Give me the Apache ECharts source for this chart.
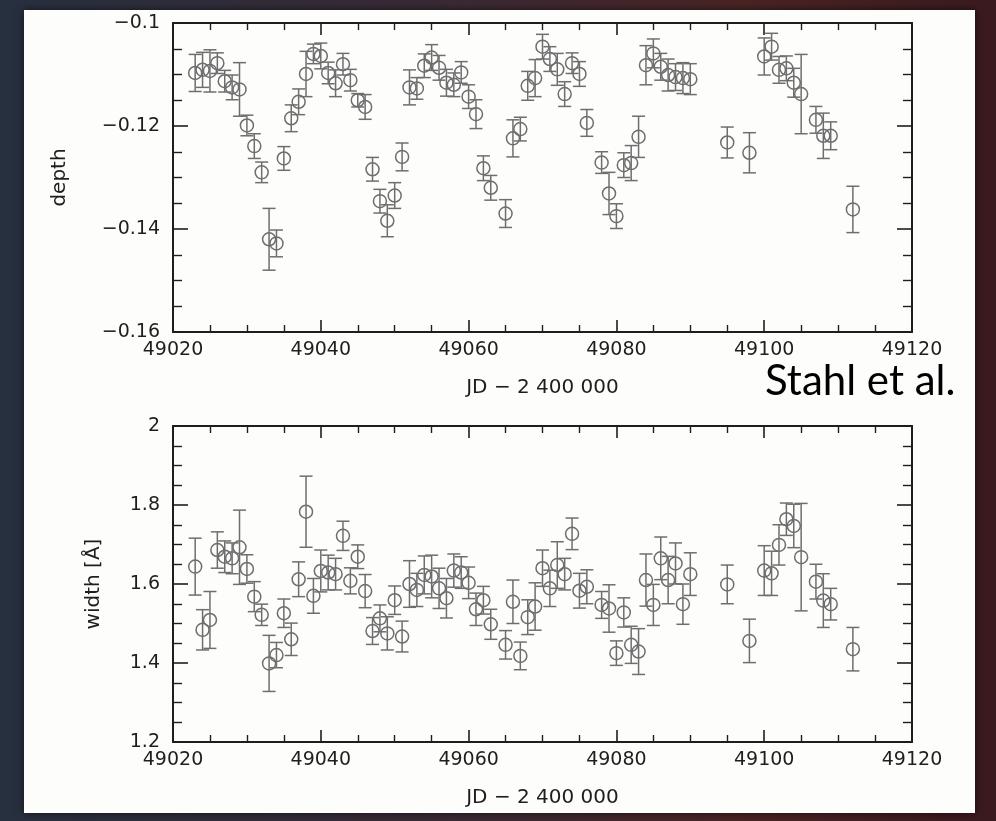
<!DOCTYPE html>
<html>
<head>
<meta charset="utf-8">
<script src="https://cdn.jsdelivr.net/npm/echarts@6/dist/echarts.min.js"></script>
<style>
  html, body { margin: 0; padding: 0; }
  body {
    width: 996px; height: 821px; overflow: hidden;
    background: linear-gradient(90deg, #27303f 0%, #3a2a35 45%, #4a2424 75%, #3a1a1e 100%);
  }
  #chart { width: 996px; height: 821px; }
</style>
</head>
<body>
<div id="chart"></div>
<script>
// JD - 2 400 000 of each observation
const days = [
  49023, 49024, 49025, 49026, 49027, 49028, 49029, 49030, 49031, 49032,
  49033, 49034, 49035, 49036, 49037, 49038, 49039, 49040, 49041, 49042,
  49043, 49044, 49045, 49046, 49047, 49048, 49049, 49050, 49051, 49052,
  49053, 49054, 49055, 49056, 49057, 49058, 49059, 49060, 49061, 49062,
  49063, 49065, 49066, 49067, 49068, 49069, 49070, 49071, 49072, 49073,
  49074, 49075, 49076, 49078, 49079, 49080, 49081, 49082, 49083, 49084,
  49085, 49086, 49087, 49088, 49089, 49090, 49095, 49098, 49100, 49101,
  49102, 49103, 49104, 49105, 49107, 49108, 49109, 49112
];
const depth = [
  -0.1097, -0.1091, -0.1093, -0.1078, -0.1113, -0.1125, -0.1129, -0.1199, -0.1239, -0.1290,
  -0.1420, -0.1428, -0.1263, -0.1185, -0.1153, -0.1099, -0.1060, -0.1064, -0.1097, -0.1117,
  -0.1080, -0.1111, -0.1150, -0.1163, -0.1284, -0.1346, -0.1384, -0.1335, -0.1260, -0.1125,
  -0.1127, -0.1083, -0.1067, -0.1087, -0.1116, -0.1120, -0.1096, -0.1143, -0.1177, -0.1282,
  -0.1320, -0.1370, -0.1224, -0.1206, -0.1122, -0.1107, -0.1046, -0.1070, -0.1090, -0.1138,
  -0.1078, -0.1099, -0.1194, -0.1271, -0.1331, -0.1375, -0.1276, -0.1272, -0.1221, -0.1082,
  -0.1059, -0.1085, -0.1101, -0.1105, -0.1107, -0.1109, -0.1232, -0.1252, -0.1065, -0.1046,
  -0.1091, -0.1088, -0.1116, -0.1138, -0.1188, -0.1219, -0.1219, -0.1362
];
const depthErr = [
  0.0036, 0.0034, 0.0041, 0.0020, 0.0021, 0.0024, 0.0052, 0.0020, 0.0024, 0.0020,
  0.0060, 0.0026, 0.0023, 0.0026, 0.0025, 0.0044, 0.0019, 0.0025, 0.0021, 0.0026,
  0.0021, 0.0021, 0.0013, 0.0024, 0.0023, 0.0023, 0.0031, 0.0025, 0.0027, 0.0034,
  0.0021, 0.0023, 0.0025, 0.0024, 0.0026, 0.0023, 0.0021, 0.0023, 0.0028, 0.0024,
  0.0024, 0.0027, 0.0036, 0.0023, 0.0028, 0.0036, 0.0024, 0.0024, 0.0031, 0.0024,
  0.0020, 0.0024, 0.0026, 0.0021, 0.0041, 0.0024, 0.0024, 0.0034, 0.0040, 0.0038,
  0.0028, 0.0026, 0.0031, 0.0026, 0.0030, 0.0030, 0.0030, 0.0039, 0.0036, 0.0026,
  0.0026, 0.0024, 0.0028, 0.0077, 0.0026, 0.0044, 0.0027, 0.0045
];
const width = [
  1.644, 1.484, 1.509, 1.686, 1.669, 1.665, 1.693, 1.638, 1.568, 1.522,
  1.399, 1.420, 1.526, 1.460, 1.612, 1.783, 1.570, 1.633, 1.629, 1.625,
  1.722, 1.608, 1.669, 1.582, 1.481, 1.513, 1.475, 1.559, 1.467, 1.600,
  1.585, 1.623, 1.619, 1.589, 1.564, 1.634, 1.629, 1.603, 1.536, 1.559,
  1.498, 1.446, 1.555, 1.418, 1.516, 1.543, 1.640, 1.589, 1.648, 1.625,
  1.727, 1.583, 1.593, 1.547, 1.538, 1.425, 1.528, 1.446, 1.429, 1.610,
  1.547, 1.665, 1.610, 1.652, 1.549, 1.625, 1.599, 1.456, 1.634, 1.627,
  1.699, 1.764, 1.747, 1.668, 1.606, 1.558, 1.549, 1.435
];
const widthErr = [
  0.072, 0.051, 0.072, 0.046, 0.040, 0.039, 0.094, 0.036, 0.038, 0.027,
  0.071, 0.032, 0.036, 0.041, 0.044, 0.090, 0.044, 0.053, 0.044, 0.040,
  0.037, 0.033, 0.030, 0.042, 0.034, 0.034, 0.042, 0.036, 0.039, 0.059,
  0.042, 0.048, 0.054, 0.051, 0.050, 0.042, 0.040, 0.040, 0.041, 0.035,
  0.038, 0.036, 0.055, 0.035, 0.044, 0.060, 0.046, 0.046, 0.059, 0.040,
  0.040, 0.044, 0.043, 0.034, 0.060, 0.031, 0.037, 0.047, 0.058, 0.066,
  0.052, 0.054, 0.060, 0.052, 0.051, 0.054, 0.049, 0.055, 0.063, 0.056,
  0.051, 0.041, 0.055, 0.136, 0.044, 0.068, 0.040, 0.055
];

const ink = '#1e1e1e';
const markColor = '#6e6e6e';
const tickFont = 'DejaVu Sans';

// error bar + open circle, positioned through the axis scales
function errorBar(params, api) {
  const x = api.value(0), y = api.value(1), e = api.value(2);
  const c = api.coord([x, y]);
  const hi = api.coord([x, y + e]);
  const lo = api.coord([x, y - e]);
  const w = 6.5;
  const st = { stroke: markColor, lineWidth: 1.5, fill: null };
  return {
    type: 'group',
    children: [
      { type: 'line', shape: { x1: c[0], y1: hi[1], x2: c[0], y2: lo[1] }, style: st },
      { type: 'line', shape: { x1: c[0] - w, y1: hi[1], x2: c[0] + w, y2: hi[1] }, style: st },
      { type: 'line', shape: { x1: c[0] - w, y1: lo[1], x2: c[0] + w, y2: lo[1] }, style: st },
      { type: 'circle', shape: { cx: c[0], cy: c[1], r: 6.5 }, style: { stroke: markColor, lineWidth: 1.5, fill: 'rgba(0,0,0,0)' } }
    ]
  };
}

function xAxes(gridIndex) {
  const common = {
    type: 'value', gridIndex: gridIndex, min: 49020, max: 49120, interval: 20,
    axisLine: { lineStyle: { color: ink, width: 2 } },
    axisTick: { inside: true, length: 12, lineStyle: { color: ink, width: 1.6 } },
    minorTick: { show: true, splitNumber: 4, length: 7, lineStyle: { color: ink, width: 1.4 } },
    splitLine: { show: false }
  };
  return [
    Object.assign({}, common, {
      position: 'bottom',
      name: 'JD \u2212 2 400 000', nameLocation: 'middle', nameGap: 46,
      nameTextStyle: { color: ink, fontFamily: tickFont, fontSize: 20 },
      axisLabel: {
        color: ink, fontFamily: tickFont, fontSize: 19, margin: 9,
        formatter: function (v) { return String(v); }
      }
    }),
    Object.assign({}, common, { position: 'top', axisLabel: { show: false } })
  ];
}

function yAxes(gridIndex, min, max, interval, name, nameGap, fmt) {
  const common = {
    type: 'value', gridIndex: gridIndex, min: min, max: max, interval: interval,
    axisLine: { show: true, lineStyle: { color: ink, width: 2 } },
    axisTick: { inside: true, length: 15, lineStyle: { color: ink, width: 1.6 } },
    minorTick: { show: true, splitNumber: 4, length: 9, lineStyle: { color: ink, width: 1.4 } },
    splitLine: { show: false }
  };
  return [
    Object.assign({}, common, {
      position: 'left',
      name: name, nameLocation: 'middle', nameGap: nameGap, nameRotate: 90,
      nameTextStyle: { color: ink, fontFamily: tickFont, fontSize: 20 },
      axisLabel: { color: ink, fontFamily: tickFont, fontSize: 19, margin: 13, formatter: fmt }
    }),
    Object.assign({}, common, { position: 'right', axisLabel: { show: false } })
  ];
}

const chart = echarts.init(document.getElementById('chart'), null, { renderer: 'canvas' });

const option = {
  backgroundColor: 'transparent',
  animation: false,
  graphic: [
    {
      type: 'rect', z: -10,
      shape: { x: 24, y: 10, width: 951, height: 803 },
      style: { fill: '#fdfdfc', shadowBlur: 8, shadowColor: 'rgba(0,0,0,0.6)' }
    },
    {
      type: 'text', z: 10, left: 765, top: 360,
      style: { text: 'Stahl et al.', fill: '#000', font: '42px Lato' }
    }
  ],
  grid: [
    { left: 173, top: 23, width: 739, height: 309 },
    { left: 173, top: 426, width: 739, height: 316 }
  ],
  xAxis: xAxes(0).concat(xAxes(1)),
  yAxis: yAxes(0, -0.16, -0.1, 0.02, 'depth', 103, function (v) {
    return String(+v.toFixed(3)).replace('-', '\u2212');
  }).concat(yAxes(1, 1.2, 2, 0.2, 'width [\u00c5]', 69, function (v) {
    return String(+v.toFixed(2));
  })),
  series: [
    {
      type: 'custom', xAxisIndex: 0, yAxisIndex: 0,
      renderItem: errorBar,
      encode: { x: 0, y: 1 },
      data: days.map(function (d, i) { return [d, depth[i], depthErr[i]]; })
    },
    {
      type: 'custom', xAxisIndex: 2, yAxisIndex: 2,
      renderItem: errorBar,
      encode: { x: 0, y: 1 },
      data: days.map(function (d, i) { return [d, width[i], widthErr[i]]; })
    }
  ]
};

chart.setOption(option);
</script>
</body>
</html>
